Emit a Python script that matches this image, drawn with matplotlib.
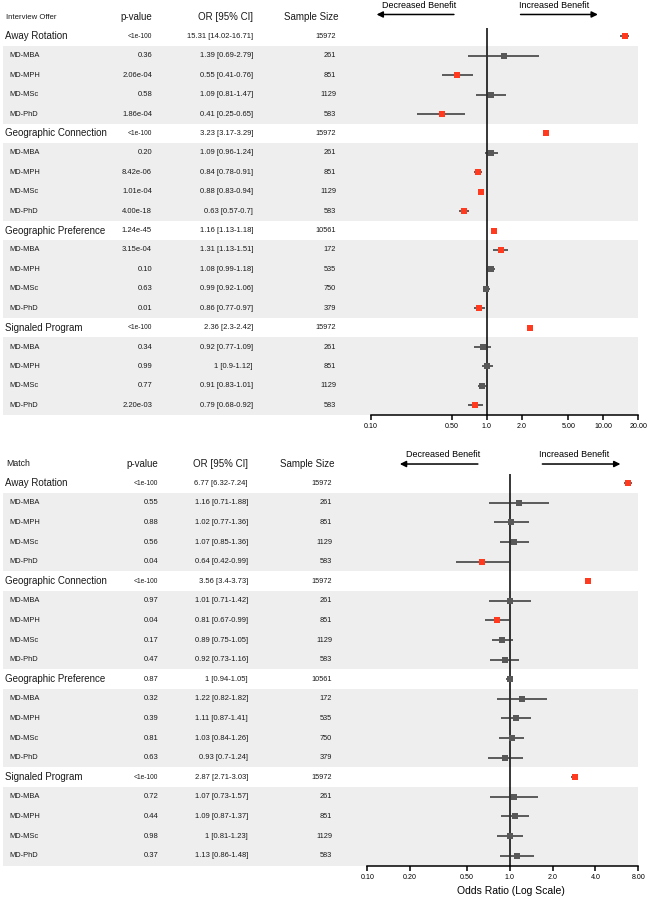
"""Forest plots of odds ratios for interview offer and match, by dual-degree subgroup."""
import matplotlib
matplotlib.use('Agg')
import matplotlib.pyplot as plt
import matplotlib.transforms as mtrans
from matplotlib.ticker import FixedLocator, FixedFormatter, NullLocator

plt.rcParams['font.family'] = ['Liberation Sans', 'DejaVu Sans']

W, H = 651, 900

groups = ["Away Rotation", "Geographic Connection", "Geographic Preference", "Signaled Program"]
subgroups = ["MD-MBA", "MD-MPH", "MD-MSc", "MD-PhD"]

# rows per panel: group row then its 4 subgroups, repeated for each group
io_p = ["<1e-100", "0.36", "2.06e-04", "0.58", "1.86e-04",
        "<1e-100", "0.20", "8.42e-06", "1.01e-04", "4.00e-18",
        "1.24e-45", "3.15e-04", "0.10", "0.63", "0.01",
        "<1e-100", "0.34", "0.99", "0.77", "2.20e-03"]
io_or = [15.31, 1.39, 0.55, 1.09, 0.41,
         3.23, 1.09, 0.84, 0.88, 0.63,
         1.16, 1.31, 1.08, 0.99, 0.86,
         2.36, 0.92, 1, 0.91, 0.79]
io_lo = [14.02, 0.69, 0.41, 0.81, 0.25,
         3.17, 0.96, 0.78, 0.83, 0.57,
         1.13, 1.13, 0.99, 0.92, 0.77,
         2.3, 0.77, 0.9, 0.83, 0.68]
io_hi = [16.71, 2.79, 0.76, 1.47, 0.65,
         3.29, 1.24, 0.91, 0.94, 0.7,
         1.18, 1.51, 1.18, 1.06, 0.97,
         2.42, 1.09, 1.12, 1.01, 0.92]
io_n = [15972, 261, 851, 1129, 583,
        15972, 261, 851, 1129, 583,
        10561, 172, 535, 750, 379,
        15972, 261, 851, 1129, 583]

m_p = ["<1e-100", "0.55", "0.88", "0.56", "0.04",
       "<1e-100", "0.97", "0.04", "0.17", "0.47",
       "0.87", "0.32", "0.39", "0.81", "0.63",
       "<1e-100", "0.72", "0.44", "0.98", "0.37"]
m_or = [6.77, 1.16, 1.02, 1.07, 0.64,
        3.56, 1.01, 0.81, 0.89, 0.92,
        1, 1.22, 1.11, 1.03, 0.93,
        2.87, 1.07, 1.09, 1, 1.13]
m_lo = [6.32, 0.71, 0.77, 0.85, 0.42,
        3.4, 0.71, 0.67, 0.75, 0.73,
        0.94, 0.82, 0.87, 0.84, 0.7,
        2.71, 0.73, 0.87, 0.81, 0.86]
m_hi = [7.24, 1.88, 1.36, 1.36, 0.99,
        3.73, 1.42, 0.99, 1.05, 1.16,
        1.05, 1.82, 1.41, 1.26, 1.24,
        3.03, 1.57, 1.37, 1.23, 1.48]
m_n = [15972, 261, 851, 1129, 583,
       15972, 261, 851, 1129, 583,
       10561, 172, 535, 750, 379,
       15972, 261, 851, 1129, 583]

io_ticks = [0.1, 0.5, 1, 2, 5, 10, 20]
io_ticklabels = ["0.10", "0.50", "1.0", "2.0", "5.00", "10.00", "20.00"]
m_ticks = [0.1, 0.2, 0.5, 1, 2, 4, 8]
m_ticklabels = ["0.10", "0.20", "0.50", "1.0", "2.0", "4.0", "8.00"]

RED = '#FF3A1F'
GREY = '#585858'
BAND = '#EEEEEE'
TXT = '#1a1a1a'


def px_axes(fig, x0, y0, x1, y1):
    return fig.add_axes([x0 / W, 1 - y1 / H, (x1 - x0) / W, (y1 - y0) / H])


def fmt(v):
    return f"{v:g}"


def panel(fig, title, title_size, p, orr, lo, hi, n, ticks, ticklabels, xmax,
          top, bottom, fx0, fx1, r_top, cols, arrows, xlabel=None):
    tab = px_axes(fig, 0, top, W, bottom)
    tab.set_xlim(0, W)
    tab.set_ylim(20.5, r_top)
    tab.axis('off')

    c_p, c_or, c_n = cols
    tab.text(6, 0, title, fontsize=title_size, ha='left', va='center', color=TXT)
    tab.text(c_p, 0, "p-value", fontsize=7, ha='right', va='center', color=TXT)
    tab.text(c_or, 0, "OR [95% CI]", fontsize=7, ha='right', va='center', color=TXT)
    tab.text(c_n + 2, 0, "Sample Size", fontsize=7, ha='right', va='center', color=TXT)

    rows = list(range(1, 21))
    for g, name in enumerate(groups):
        r0 = 1 + 5 * g
        tab.axhspan(r0 + 0.5, r0 + 4.5, xmin=3 / W, xmax=638 / W, color=BAND, lw=0, zorder=0)
        tab.text(5, r0, name, fontsize=7, ha='left', va='center', color=TXT)
        for j, s in enumerate(subgroups):
            tab.text(9, r0 + 1 + j, s, fontsize=5.4, ha='left', va='center', color=TXT)

    for i, r in enumerate(rows):
        small = p[i].startswith('<')
        tab.text(c_p, r, p[i], fontsize=4.8 if small else 5.5, ha='right', va='center', color=TXT)
        tab.text(c_or, r, f"{fmt(orr[i])} [{fmt(lo[i])}-{fmt(hi[i])}]",
                 fontsize=5.5, ha='right', va='center', color=TXT)
        tab.text(c_n, r, str(n[i]), fontsize=5.3, ha='right', va='center', color=TXT)

    ax = px_axes(fig, fx0, top, fx1, bottom)
    ax.patch.set_visible(False)
    ax.set_xscale('log')
    ax.set_xlim(0.1, xmax)
    ax.set_ylim(20.5, r_top)
    for s in ('top', 'right', 'left'):
        ax.spines[s].set_visible(False)
    ax.spines['bottom'].set_linewidth(1.1)
    ax.set_yticks([])
    ax.xaxis.set_major_locator(FixedLocator(ticks))
    ax.xaxis.set_major_formatter(FixedFormatter(ticklabels))
    ax.xaxis.set_minor_locator(NullLocator())
    ax.tick_params(axis='x', length=3.5, width=1.1, labelsize=5.1, pad=2.5, colors='black')

    ax.vlines(1, 0.55, 20.5, color='black', lw=1.1, zorder=2)
    ax.hlines(rows, lo, hi, color='#333333', lw=1.1, zorder=3)
    sig = [float(v.lstrip('<')) < 0.05 for v in p]
    for i, r in enumerate(rows):
        ax.plot(orr[i], r, marker='s', ms=4.6, mew=0,
                color=RED if sig[i] else GREY, zorder=4)

    # benefit arrows: x in axes fraction, y in row units
    ay, ty, d0, d1, dt, i0, i1, it = arrows
    kw = dict(arrowstyle='-|>', lw=1.1, color='black', mutation_scale=9, shrinkA=0, shrinkB=0)
    bt = mtrans.blended_transform_factory(ax.transAxes, ax.transData)
    ax.annotate('', xy=(d1, ay), xytext=(d0, ay), xycoords=bt, textcoords=bt,
                arrowprops=kw, annotation_clip=False)
    ax.annotate('', xy=(i1, ay), xytext=(i0, ay), xycoords=bt, textcoords=bt,
                arrowprops=kw, annotation_clip=False)
    ax.text(dt, ty, "Decreased Benefit", transform=bt, fontsize=6.5, ha='center', va='center')
    ax.text(it, ty, "Increased Benefit", transform=bt, fontsize=6.5, ha='center', va='center')

    if xlabel:
        ax.set_xlabel(xlabel, fontsize=7.5, labelpad=3)
        ax.xaxis.set_label_coords((511 - fx0) / (fx1 - fx0), -0.048)
    return ax


fig = plt.figure(figsize=(W / 100, H / 100), dpi=100)

panel(fig, "Interview Offer", 5.6, io_p, io_or, io_lo, io_hi, io_n, io_ticks, io_ticklabels, 20,
      top=0, bottom=415, fx0=370.7, fx1=638.3, r_top=-0.876,
      cols=(152, 253, 336),
      arrows=(-0.13, -0.6, 0.311, 0.022, 0.18, 0.56, 0.849, 0.686))

panel(fig, "Match", 6.3, m_p, m_or, m_lo, m_hi, m_n, m_ticks, m_ticklabels, 8,
      top=435, bottom=865.5, fx0=367.3, fx1=638.3, r_top=-1.46,
      cols=(158, 248, 332),
      arrows=(0.02, -0.44, 0.408, 0.12, 0.28, 0.646, 0.934, 0.763),
      xlabel="Odds Ratio (Log Scale)")

fig.savefig('out.png', dpi=100)
